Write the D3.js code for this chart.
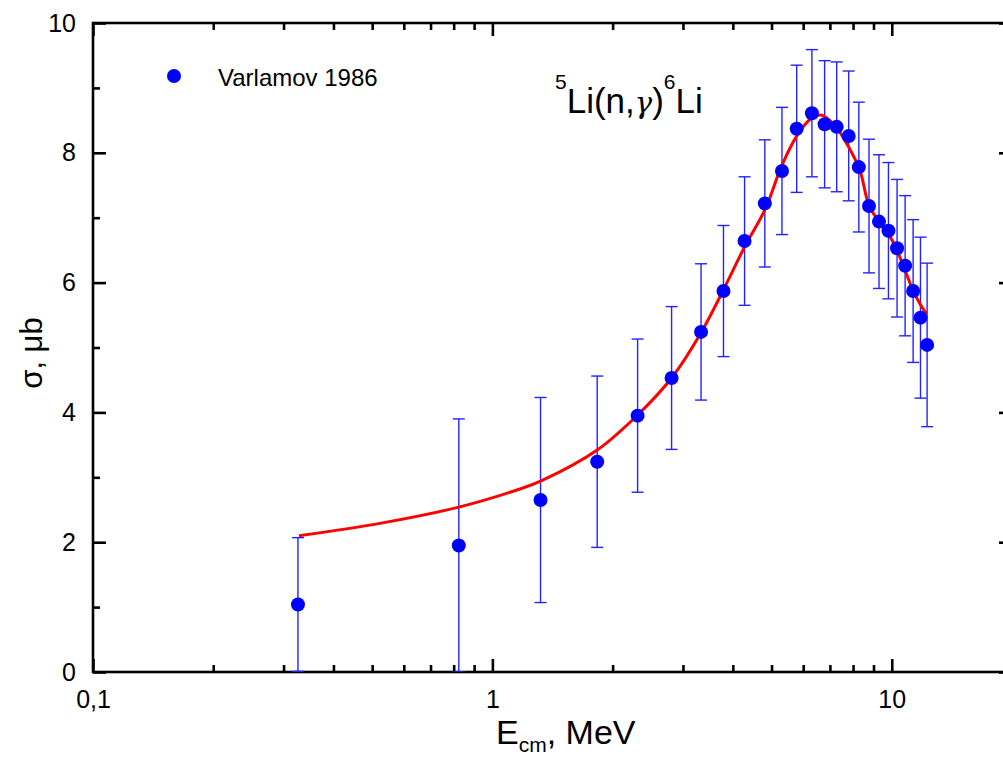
<!DOCTYPE html>
<html>
<head>
<meta charset="utf-8">
<script src="https://cdn.jsdelivr.net/npm/d3@7"></script>
<style>
  html, body { margin: 0; padding: 0; background: #fff; }
  svg { display: block; font-family: Arial, "Liberation Sans", sans-serif; }
</style>
</head>
<body>
<svg id="chart" width="1003" height="758"></svg>
<script>
// Measured cross sections (Varlamov 1986)
const energy = [0.326, 0.824, 1.32, 1.83, 2.31, 2.81, 3.33, 3.79, 4.28, 4.81, 5.31, 5.78, 6.31,
                6.79, 7.28, 7.80, 8.27, 8.77, 9.29, 9.81, 10.31, 10.80, 11.31, 11.80, 12.26];
const sigma = [1.04, 1.95, 2.65, 3.24, 3.95, 4.53, 5.24, 5.87, 6.64, 7.22, 7.72, 8.37, 8.61,
               8.44, 8.40, 8.26, 7.78, 7.18, 6.94, 6.80, 6.53, 6.26, 5.87, 5.46, 5.04];
const sigmaErr = [1.03, 1.95, 1.58, 1.32, 1.18, 1.10, 1.05, 1.01, 0.99, 0.98, 0.98, 0.98, 0.98,
                  0.98, 1.00, 1.00, 1.00, 1.03, 1.03, 1.05, 1.06, 1.08, 1.10, 1.24, 1.26];

// Calculated curve
const fitEnergy = [0.328, 0.523, 0.824, 1.172, 1.32, 1.83, 2.31, 2.81, 3.31, 3.79, 4.28, 4.81,
                   5.31, 5.77, 6.23, 6.68, 7.20, 7.80, 8.32, 8.77, 9.29, 9.83, 10.31, 10.79,
                   11.29, 11.82, 12.22];
const fitSigma = [2.10, 2.29, 2.54, 2.82, 2.94, 3.42, 3.96, 4.53, 5.20, 5.89, 6.55, 7.12,
                  7.81, 8.25, 8.51, 8.58, 8.42, 8.09, 7.73, 7.19, 6.94, 6.74, 6.50, 6.19,
                  5.89, 5.65, 5.52];

const xMajorTicks = [0.1, 1, 10];
const xMajorLabels = ["0,1", "1", "10"];
const xMinorTicks = [0.2, 0.3, 0.4, 0.5, 0.6, 0.7, 0.8, 0.9, 2, 3, 4, 5, 6, 7, 8, 9, 20];
const yMajorTicks = [0, 2, 4, 6, 8, 10];
const yMinorTicks = [1, 3, 5, 7, 9];

const svg = d3.select("#chart");
const W = 1003, H = 758;
svg.append("rect").attr("width", W).attr("height", H).attr("fill", "#fff");

const plotLeft = 93, plotRight = 1012, plotTop = 23, plotBottom = 672;
const x = d3.scaleLog().domain([0.1, 20]).range([plotLeft, plotRight]);
const y = d3.scaleLinear().domain([0, 10]).range([plotBottom, plotTop]);

const majorLen = 13, minorLen = 7, axisW = 2.6;

// Axes: ticks point inward on all four sides
function styleAxis(g) {
  g.select(".domain").remove();
  g.selectAll(".tick line").attr("stroke", "#000").attr("stroke-width", axisW);
  g.selectAll(".tick text").attr("fill", "#000").attr("font-size", 25);
}

svg.append("g").attr("transform", `translate(0,${plotBottom})`)
  .call(d3.axisBottom(x).tickValues(xMajorTicks).tickSizeInner(-majorLen).tickSizeOuter(0)
        .tickPadding(18).tickFormat((d, i) => xMajorLabels[i]))
  .call(styleAxis);
svg.append("g").attr("transform", `translate(0,${plotBottom})`)
  .call(d3.axisBottom(x).tickValues(xMinorTicks).tickSizeInner(-minorLen).tickSizeOuter(0).tickFormat(""))
  .call(styleAxis);
svg.append("g").attr("transform", `translate(0,${plotTop})`)
  .call(d3.axisTop(x).tickValues(xMajorTicks).tickSizeInner(-majorLen).tickSizeOuter(0).tickFormat(""))
  .call(styleAxis);
svg.append("g").attr("transform", `translate(0,${plotTop})`)
  .call(d3.axisTop(x).tickValues(xMinorTicks).tickSizeInner(-minorLen).tickSizeOuter(0).tickFormat(""))
  .call(styleAxis);

svg.append("g").attr("transform", `translate(${plotLeft},0)`)
  .call(d3.axisLeft(y).tickValues(yMajorTicks).tickSizeInner(-majorLen).tickSizeOuter(0)
        .tickPadding(17).tickFormat(d3.format("d")))
  .call(styleAxis);
svg.append("g").attr("transform", `translate(${plotLeft},0)`)
  .call(d3.axisLeft(y).tickValues(yMinorTicks).tickSizeInner(-minorLen).tickSizeOuter(0).tickFormat(""))
  .call(styleAxis);
svg.append("g").attr("transform", `translate(${plotRight},0)`)
  .call(d3.axisRight(y).tickValues(yMajorTicks).tickSizeInner(-majorLen).tickSizeOuter(0).tickFormat(""))
  .call(styleAxis);
svg.append("g").attr("transform", `translate(${plotRight},0)`)
  .call(d3.axisRight(y).tickValues(yMinorTicks).tickSizeInner(-minorLen).tickSizeOuter(0).tickFormat(""))
  .call(styleAxis);

// Frame
svg.append("rect")
  .attr("x", plotLeft).attr("y", plotTop)
  .attr("width", plotRight - plotLeft).attr("height", plotBottom - plotTop)
  .attr("fill", "none").attr("stroke", "#000").attr("stroke-width", axisW);

// Clip for data
svg.append("clipPath").attr("id", "plot-clip")
  .append("rect").attr("x", plotLeft).attr("y", plotTop)
  .attr("width", plotRight - plotLeft).attr("height", plotBottom - plotTop);
const plot = svg.append("g").attr("clip-path", "url(#plot-clip)");

const points = energy.map((e, i) => ({ e, s: sigma[i], err: sigmaErr[i] }));
const barColor = "#2323ff", capHalf = 6;

// Error bars
const bars = plot.append("g").attr("stroke", barColor).attr("stroke-width", 1.4).attr("fill", "none");
points.forEach(p => {
  const cx = x(p.e), y1 = y(p.s + p.err), y0 = y(Math.max(0, p.s - p.err));
  bars.append("line").attr("x1", cx).attr("x2", cx).attr("y1", y1).attr("y2", y0);
  bars.append("line").attr("x1", cx - capHalf).attr("x2", cx + capHalf).attr("y1", y1).attr("y2", y1);
  bars.append("line").attr("x1", cx - capHalf).attr("x2", cx + capHalf).attr("y1", y0).attr("y2", y0);
});

// Fitted curve
const line = d3.line().x(d => x(d[0])).y(d => y(d[1])).curve(d3.curveCatmullRom.alpha(0.5));
plot.append("path")
  .datum(fitEnergy.map((e, i) => [e, fitSigma[i]]))
  .attr("d", line)
  .attr("fill", "none").attr("stroke", "#ff0000").attr("stroke-width", 3);

// Data points
plot.append("g").selectAll("circle").data(points).join("circle")
  .attr("cx", d => x(d.e)).attr("cy", d => y(d.s)).attr("r", 7)
  .attr("fill", "#0000ff");

// Legend
svg.append("circle").attr("cx", 174).attr("cy", 76).attr("r", 7).attr("fill", "#0000ff");
svg.append("text").attr("x", 218).attr("y", 86).attr("font-size", 24).attr("fill", "#000")
  .text("Varlamov 1986");

// Reaction label
const react = svg.append("text").attr("x", 555).attr("y", 113).attr("font-size", 35).attr("fill", "#000");
react.append("tspan").attr("font-size", 21).attr("dy", -24).text("5");
react.append("tspan").attr("dy", 24).text("Li(n,");
react.append("tspan").attr("font-family", "'DejaVu Serif', serif").attr("font-style", "italic").attr("font-size", 29).text("γ");
react.append("tspan").text(")");
react.append("tspan").attr("font-size", 21).attr("dy", -24).text("6");
react.append("tspan").attr("dy", 24).text("Li");

// Axis titles
const xt = svg.append("text").attr("x", 496).attr("y", 744).attr("font-size", 34).attr("fill", "#000");
xt.append("tspan").text("E");
xt.append("tspan").attr("font-size", 21).attr("dy", 8).text("cm");
xt.append("tspan").attr("dy", -8).text(", MeV");

svg.append("text")
  .attr("transform", "translate(42,353) rotate(-90)")
  .attr("text-anchor", "middle").attr("font-size", 31).attr("fill", "#000")
  .text("σ, μb");
</script>
</body>
</html>
